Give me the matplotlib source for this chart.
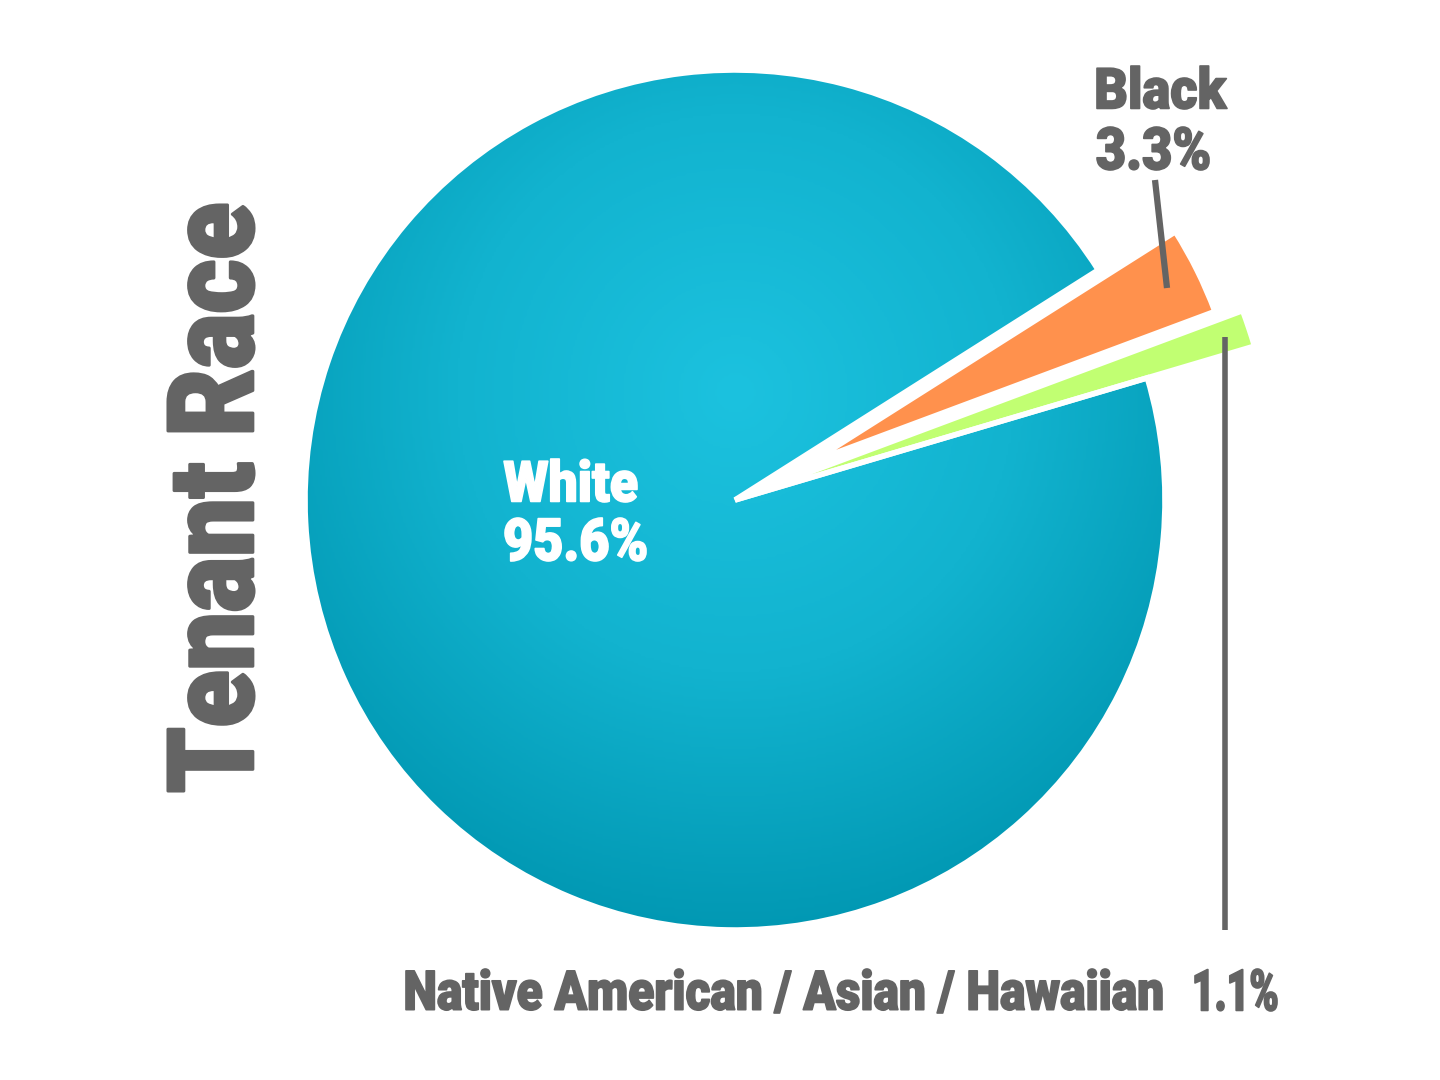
import numpy as np
import matplotlib
matplotlib.use('Agg')
import matplotlib.pyplot as plt
from matplotlib.colors import LinearSegmentedColormap
from matplotlib.patches import Wedge, PathPatch
from matplotlib.textpath import TextPath
from matplotlib.font_manager import FontProperties
from matplotlib.transforms import Affine2D

# data (drawn counter-clockwise from the small slices)
labels = ['Native American / Asian / Hawaiian', 'Black', 'White']
shares = [1.1, 3.3, 95.6]
colors = ['#C1FF72', '#FF914D', '#12B3CF']
explode = [0.0, 0.2, 0.0]

gray = '#646464'
W, H = 1440, 1080
cx, cy, R = 735, 500, 430  # pie center / radius in pixels

fig = plt.figure(figsize=(14.4, 10.8), dpi=100)
ax = fig.add_axes([0, 0, 1, 1])

wedges, _ = ax.pie(shares, colors=colors, explode=explode, startangle=16.5,
                   counterclock=True, radius=1.0, frame=True)
ax.set_xlim(-cx / R, (W - cx) / R)
ax.set_ylim(-(H - cy) / R, cy / R)
ax.set_aspect('auto')
ax.axis('off')

# the small slice sticks out past the rim
wedges[0].set_radius(1.26)

# radial gradient on the big slice
cmap = LinearSegmentedColormap.from_list('b', ['#1CC2DF', '#12B3CF', '#0096B1'])
gx, gy = np.meshgrid(np.linspace(-1.05, 1.05, 400), np.linspace(-1.05, 1.05, 400))
dist = np.sqrt(gx ** 2 + (gy - 0.25) ** 2)
im = ax.imshow(dist, cmap=cmap, extent=(-1.05, 1.05, -1.05, 1.05), origin='lower',
               vmin=0, vmax=1.3, zorder=2)
im.set_clip_path(wedges[2])

# white gaps between slices
for w in wedges:
    ax.add_patch(Wedge(w.center, w.r, w.theta1, w.theta2, fill=False,
                       edgecolor='white', linewidth=4, zorder=3))

# overlay in pixel coordinates for the condensed lettering
tx = fig.add_axes([0, 0, 1, 1])
tx.set_xlim(0, W)
tx.set_ylim(H, 0)
tx.axis('off')
tx.patch.set_alpha(0)

fp = FontProperties(family='Roboto', weight='black')


def fit_text(s, x0, x1, ytop, ybot, color, vertical=False, bold=1.2):
    tp = TextPath((0, 0), s, size=100, prop=fp)
    bb = tp.get_extents()
    if not vertical:
        tr = (Affine2D().translate(-bb.x0, -bb.y0)
              .scale((x1 - x0) / bb.width, -(ybot - ytop) / bb.height)
              .translate(x0, ybot))
    else:
        # reads bottom to top; letter tops face left (x0), baseline at x1
        tr = (Affine2D().translate(-bb.x0, -bb.y0)
              .scale((ybot - ytop) / bb.width, (x1 - x0) / bb.height)
              .rotate_deg(90).scale(1, -1).translate(x1, ybot))
    tx.add_patch(PathPatch(tr.transform_path(tp), facecolor=color, edgecolor=color,
                           linewidth=bold, joinstyle='round', zorder=5))


fit_text('White', 504, 637, 459, 502, 'white')
fit_text('95.6%', 505, 646, 518, 561, 'white')
fit_text('Black', 1097, 1227, 66, 109, gray)
fit_text('3.3%', 1097, 1209, 127, 170, gray)
fit_text('Native American / Asian / Hawaiian', 406, 1162, 969, 1013, gray)
fit_text('1.1%', 1195, 1277, 969, 1011, gray)
fit_text('Tenant Race', 168, 254, 205, 791, gray, vertical=True, bold=2.2)

# leader lines
tx.plot([1155, 1167], [180, 288], color=gray, lw=4.5, solid_capstyle='butt')
tx.plot([1225, 1225], [337, 930], color=gray, lw=4, solid_capstyle='butt')

fig.savefig('out.png', dpi=100, facecolor='white')
